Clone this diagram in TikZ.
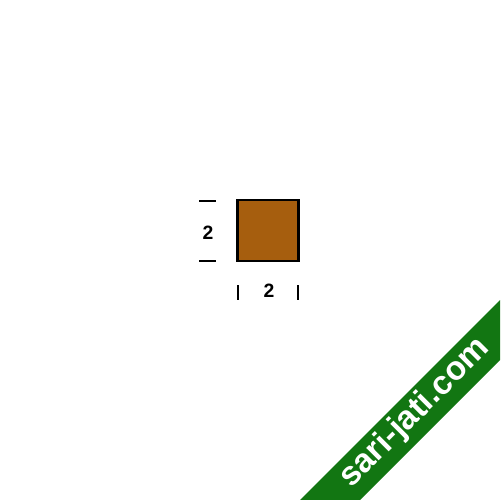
\documentclass[tikz,border=0pt]{standalone}
\usepackage{fontspec}
\setmainfont{Liberation Sans}
\definecolor{woodbrown}{RGB}{166,94,14}
\definecolor{bannergreen}{RGB}{18,118,18}
\begin{document}
\begin{tikzpicture}[x=0.02cm, y=-0.02cm, every node/.style={font=\fontsize{11}{11}\bfseries}]
  \def\tickw{1.3pt}
  \useasboundingbox (0,0) rectangle (500,500);

  % the square piece
  \node[draw=black, line width=1.3pt, fill=woodbrown, inner sep=0pt,
        minimum size=1.22cm] (board) at (268,230.5) {};

  % height dimension
  \draw[line width=\tickw] (199,201) -- (216,201);
  \draw[line width=\tickw] (199,261) -- (216,261);
  \node (height) at (208,233) {2};

  % width dimension
  \draw[line width=\tickw] (238,285) -- (238,300);
  \draw[line width=\tickw] (298,285) -- (298,300);
  \node (width) at (269,291) {2};

  % corner banner
  \fill[bannergreen] (500,300) -- (500,360) -- (360,500) -- (300,500) -- cycle;
  \node[text=white, rotate=45, font=\fontsize{19}{19}\bfseries] (site) at (415,413) {sari-jati.com};
\end{tikzpicture}
\end{document}
